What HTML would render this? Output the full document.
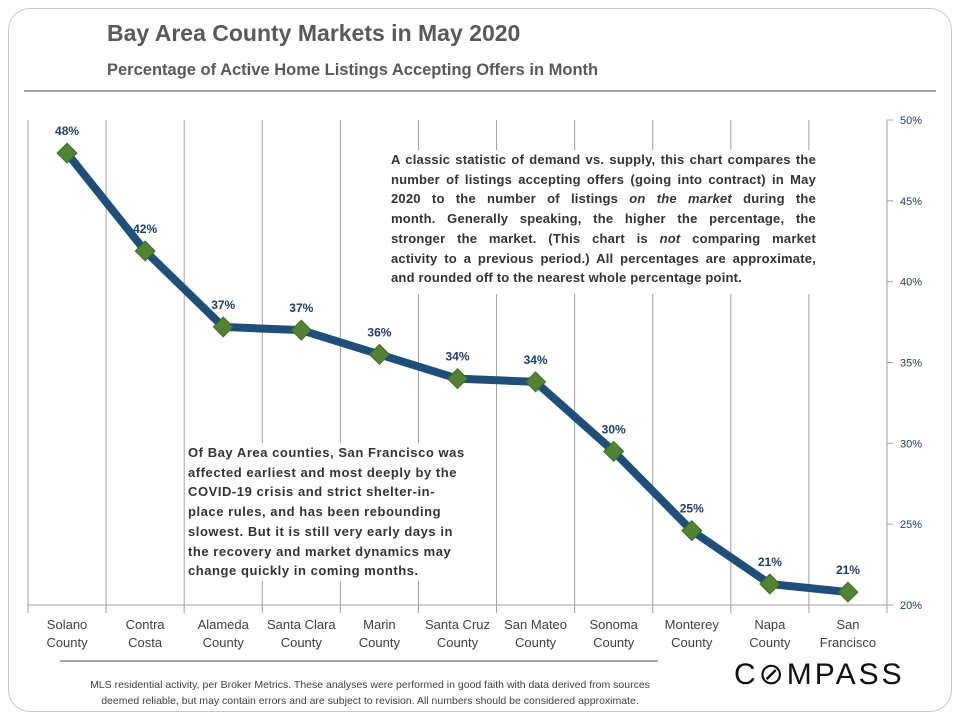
<!DOCTYPE html>
<html><head><meta charset="utf-8">
<style>
body{margin:0;background:#fff;font-family:"Liberation Sans",sans-serif;}
#wrap{position:relative;width:960px;height:720px;overflow:hidden;}
.card{position:absolute;left:8px;top:8px;width:942px;height:702px;border:1.5px solid #c8c8c8;border-radius:22px;}
.t{position:absolute;color:#595959;font-weight:bold;}
.note{position:absolute;font-size:13px;font-weight:bold;color:#333;line-height:19.7px;background:#fff;}
.note.j div{text-align:justify;text-align-last:justify;white-space:nowrap;}
.note.j div.last{text-align-last:left;}
</style></head><body>
<div id="wrap">
<div class="card"></div>
<div class="t" style="left:107px;top:20px;font-size:23px;">Bay Area County Markets in May 2020</div>
<div class="t" style="left:107px;top:61px;font-size:16.5px;">Percentage of Active Home Listings Accepting Offers in Month</div>
<div style="position:absolute;left:24px;top:90px;width:912px;height:2px;background:#a6a6a6"></div>
<svg id="chart" width="960" height="720" style="position:absolute;left:0;top:0"></svg>
<div class="note j" style="left:388px;top:150px;width:425px;padding:0 0 6px 3px;letter-spacing:0.2px">
<div>A classic statistic of demand vs. supply, this chart compares the</div>
<div>number of listings accepting offers (going into contract) in May</div>
<div>2020 to the number of listings <i>on the market</i> during the</div>
<div>month. Generally speaking, the higher the percentage, the</div>
<div>stronger the market. (This chart is <i>not</i> comparing market</div>
<div>activity to a previous period.) All percentages are approximate,</div>
<div class="last">and rounded off to the nearest whole percentage point.</div>
</div>
<div class="note" style="left:186px;top:443px;width:294px;padding-left:2px;font-size:13px;letter-spacing:0.55px;white-space:nowrap">Of Bay Area counties, San Francisco was<br>affected earliest and most deeply by the<br>COVID-19 crisis and strict shelter-in-<br>place rules, and has been rebounding<br>slowest. But it is still very early days in<br>the recovery and market dynamics may<br>change quickly in coming months.</div>
<div style="position:absolute;left:60px;top:660px;width:598px;height:2px;background:#a6a6a6"></div>
<div style="position:absolute;left:40px;top:677px;width:660px;text-align:center;font-size:10.5px;color:#404040;line-height:16px">MLS residential activity, per Broker Metrics. These analyses were performed in good faith with data derived from sources<br>deemed reliable, but may contain errors and are subject to revision. All numbers should be considered approximate.</div>
<div style="position:absolute;left:734px;top:657px;font-size:30px;letter-spacing:3px;color:#111">C&#8856;MPASS</div>
</div>
<script>
const categories=[["Solano","County"],["Contra","Costa"],["Alameda","County"],["Santa Clara","County"],["Marin","County"],["Santa Cruz","County"],["San Mateo","County"],["Sonoma","County"],["Monterey","County"],["Napa","County"],["San","Francisco"]];
const values=[47.95,41.9,37.2,37.0,35.5,34.0,33.8,29.5,24.6,21.3,20.8];
const valueLabels=["48%","42%","37%","37%","36%","34%","34%","30%","25%","21%","21%"];
const yTicks=[20,25,30,35,40,45,50];
const svg=document.getElementById('chart');const NS="http://www.w3.org/2000/svg";
const L=28,R=887,T=120,B=605,yMin=20,yMax=50;
const step=(R-L)/categories.length;
const x=i=>L+step*(i+0.5);
const y=v=>B-(v-yMin)/(yMax-yMin)*(B-T);
function mk(t,a){const e=document.createElementNS(NS,t);for(const k in a)e.setAttribute(k,a[k]);svg.appendChild(e);return e;}
let e;
for(let i=0;i<=categories.length;i++){
 e=mk('line',{x1:L+step*i,x2:L+step*i,y1:T,y2:B+8,stroke:'#a0a0a0','stroke-width':1});
 
 
}
e=mk('line',{x1:L,x2:R+6,y1:B,y2:B,stroke:'#a0a0a0','stroke-width':1});


e=mk('line',{x1:R,x2:R,y1:T,y2:B,stroke:'#a0a0a0','stroke-width':1});


yTicks.forEach(v=>{
 e=mk('line',{x1:R,x2:R+6,y1:y(v),y2:y(v),stroke:'#a0a0a0'});
 
 
 e=mk('text',{x:R+13,y:y(v)+4,'font-size':11,fill:'#1f3f6b','font-family':'Liberation Sans, sans-serif'});e.textContent=v+'%';
 
 
});
categories.forEach((c,i)=>{
 c.forEach((s,j)=>{e=mk('text',{x:x(i),y:629+j*18,'text-anchor':'middle','font-size':13,fill:'#404040','font-family':'Liberation Sans Narrow, Liberation Sans, sans-serif'});e.textContent=s;
 
 });
});
e=mk('polyline',{points:values.map((v,i)=>x(i)+','+y(v)).join(' '),fill:'none',stroke:'#1f4e79','stroke-width':8,'stroke-linejoin':'round'});


values.forEach((v,i)=>{
 const cx=x(i),cy=y(v);
 e=mk('rect',{x:cx-7,y:cy-7,width:14,height:14,fill:'#548235',stroke:'#3b6b24','stroke-width':1,transform:`rotate(45 ${cx} ${cy})`});
 
 
 e=mk('text',{x:cx,y:cy-18,'text-anchor':'middle','font-size':12,'font-weight':'bold',fill:'#1f3f6b','font-family':'Liberation Sans, sans-serif'});e.textContent=valueLabels[i];
 
 
});
</script>
</body></html>
